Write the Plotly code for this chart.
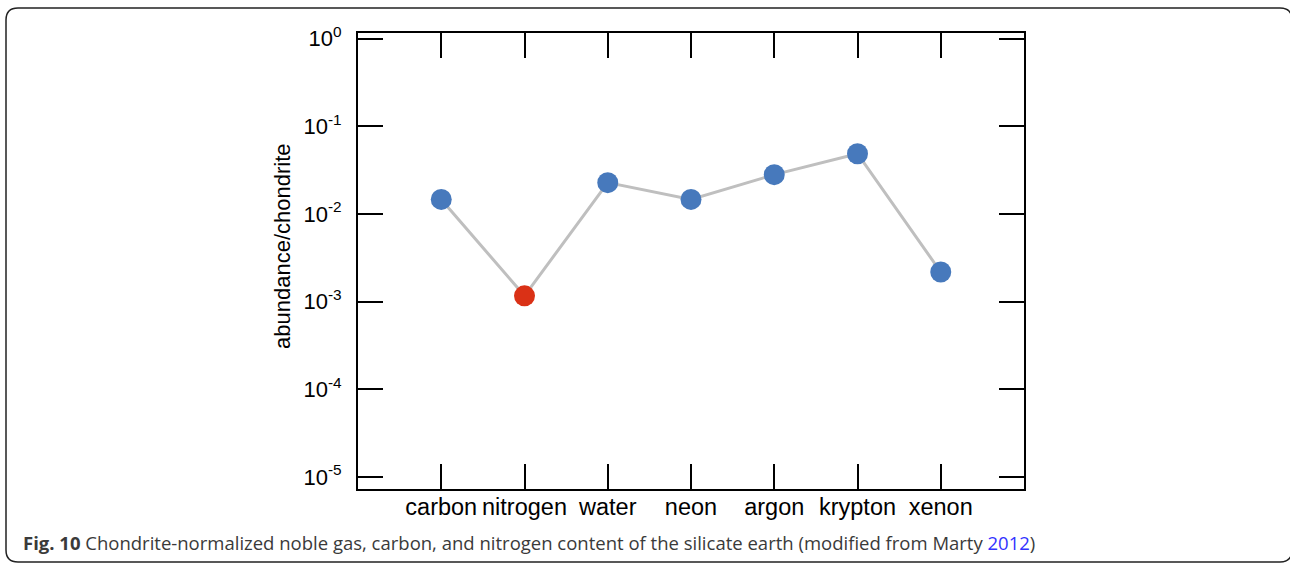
import plotly.graph_objects as go

# ---- data ----
elements = ["carbon", "nitrogen", "water", "neon", "argon", "krypton", "xenon"]
abundance = [0.0146, 0.00116, 0.0227, 0.0146, 0.028, 0.0485, 0.00217]
point_colors = ["#4779BC", "#DA3116", "#4779BC", "#4779BC", "#4779BC", "#4779BC", "#4779BC"]
y_tickvals = [1, 0.1, 0.01, 0.001, 0.0001, 0.00001]
y_ticktext = ["10<sup>0</sup>", "10<sup>-1</sup>", "10<sup>-2</sup>", "10<sup>-3</sup>",
              "10<sup>-4</sup>", "10<sup>-5</sup>"]

W, H = 1290, 563
L, R, T, B = 358, 1024, 33, 489  # plot area in pixels


def px(x):
    return (x - L) / (R - L)


def py(y):
    return (B - y) / (B - T)


fig = go.Figure()
fig.add_trace(go.Scatter(
    x=elements, y=abundance, mode="lines+markers",
    line=dict(color="#BFBFBF", width=3),
    marker=dict(size=21, color=point_colors, line=dict(width=0)),
    showlegend=False,
))

axis_common = dict(
    showline=True, linecolor="black", linewidth=2, mirror="allticks",
    ticks="inside", ticklen=25, tickwidth=2, tickcolor="black",
    showgrid=False, zeroline=False,
)

fig.update_xaxes(
    type="category", range=[-1, 7],
    tickfont=dict(family="Liberation Sans, Arial, sans-serif", size=23.5, color="black"),
    ticklabelstandoff=-4,
    **axis_common,
)
fig.update_yaxes(
    type="log", range=[-5.139, 0.063],
    tickvals=y_tickvals, ticktext=y_ticktext,
    tickfont=dict(family="Liberation Sans, Arial, sans-serif", size=22, color="black"),
    ticklabelstandoff=10,
    **axis_common,
)

# rounded frame around the figure
x0, x1 = px(6), px(1292)
y0, y1 = py(8), py(562)
rx = 12 / (R - L)
ry = 12 / (B - T)
path = (f"M {x0+rx},{y0} L {x1-rx},{y0} Q {x1},{y0} {x1},{y0-ry} "
        f"L {x1},{y1+ry} Q {x1},{y1} {x1-rx},{y1} "
        f"L {x0+rx},{y1} Q {x0},{y1} {x0},{y1+ry} "
        f"L {x0},{y0-ry} Q {x0},{y0} {x0+rx},{y0} Z")
fig.add_shape(type="path", path=path, xref="paper", yref="paper",
              line=dict(color="#222222", width=1.5), layer="below")

# y-axis title
fig.add_annotation(
    text="abundance/chondrite", textangle=-90,
    x=px(283), y=py(246), xref="paper", yref="paper",
    xanchor="center", yanchor="middle", showarrow=False,
    font=dict(family="Liberation Sans, Arial, sans-serif", size=22, color="black"),
)

# caption
fig.add_annotation(
    text=("<b>Fig. 10</b> Chondrite-normalized noble gas, carbon, and nitrogen content of the "
          "silicate earth (modified from Marty <span style='color:#3333FF'>2012</span>)"),
    x=px(21), y=py(542), xref="paper", yref="paper",
    xanchor="left", yanchor="middle", showarrow=False,
    font=dict(family="Open Sans, sans-serif", size=18.5, color="#3a3a3a"),
)

fig.update_layout(
    width=W, height=H,
    margin=dict(l=L, r=W - R, t=T, b=H - B),
    paper_bgcolor="white", plot_bgcolor="white",
)

fig.write_html("out.html")
